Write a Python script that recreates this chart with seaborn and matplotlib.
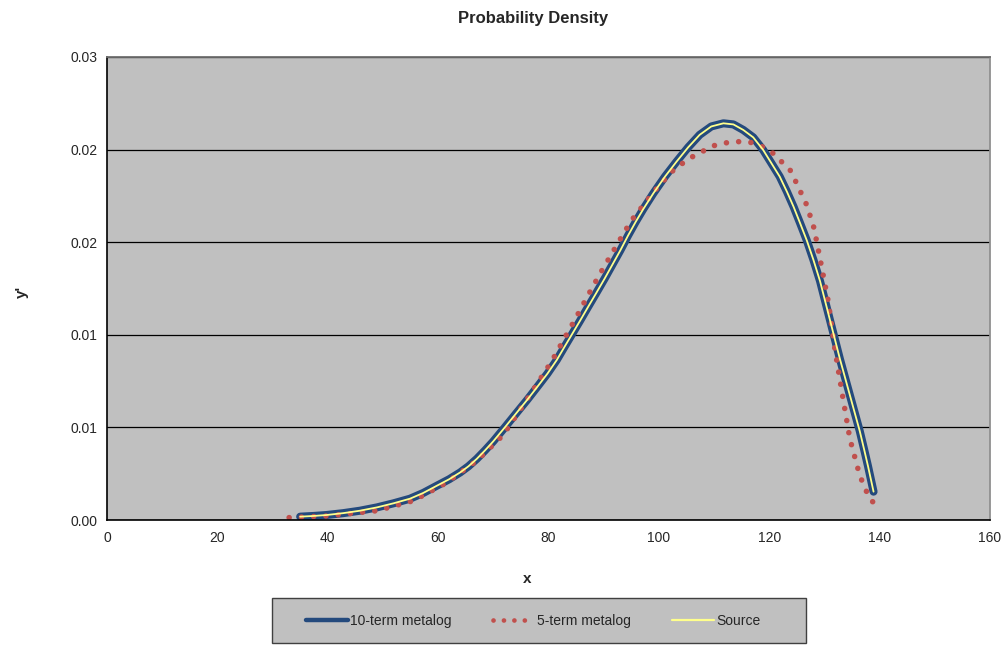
import numpy as np
import pandas as pd
import seaborn as sns
import matplotlib
matplotlib.use("Agg")
from matplotlib import pyplot as plt
from matplotlib.patches import Rectangle
from matplotlib.ticker import FuncFormatter

# values
x_10 = [35.0, 37.5, 39.8, 42.8, 45.8, 48.9, 51.9, 54.9, 57.3, 59.7, 62.0, 64.0,
        65.5, 67.0, 68.5, 70.0, 72.0, 74.2, 76.2, 78.1, 79.8, 81.5, 82.8, 84.2,
        85.7, 87.2, 88.7, 90.2, 91.6, 93.0, 94.4, 95.8, 97.2, 99.0, 101.1, 103.2,
        105.3, 107.4, 109.5, 111.7, 113.5, 115.3, 117.1, 118.9, 120.4, 121.9,
        123.2, 124.4, 125.6, 126.8, 128.0, 129.2, 130.4, 131.6, 132.8, 134.0,
        135.2, 136.4, 137.2, 137.9, 138.9]
y_10 = [0.00018, 0.00022, 0.00027, 0.00037, 0.0005, 0.00068, 0.0009, 0.00115,
        0.00146, 0.00184, 0.0022, 0.00257, 0.0029, 0.0033, 0.00376, 0.00425,
        0.00497, 0.00578, 0.00651, 0.00724, 0.0079, 0.00864, 0.0093, 0.0100,
        0.01075, 0.01152, 0.01228, 0.01305, 0.0138, 0.01455, 0.01535, 0.0161,
        0.0168, 0.01764, 0.01854, 0.01935, 0.02012, 0.0208, 0.02125, 0.02142,
        0.02136, 0.02106, 0.02066, 0.01998, 0.01926, 0.01854, 0.01773, 0.01692,
        0.01602, 0.0151, 0.01405, 0.0129, 0.0115, 0.0101, 0.0087, 0.0074,
        0.0061, 0.0048, 0.0038, 0.0029, 0.00153]

x_5 = [33.0, 40.0, 48.9, 55.5, 61.5, 67.0, 71.8, 76.9, 80.6, 82.8, 85.0, 87.1,
       89.3, 91.6, 93.9, 95.1, 99.3, 102.3, 104.0, 106.0, 109.8, 112.0, 114.3,
       116.5, 118.5, 120.7, 123.9, 126.8, 128.1, 129.0, 130.7, 131.9, 133.4,
       134.6, 136.4, 138.1, 139.6]
y_5 = [0.00013, 0.00022, 0.0005, 0.00104, 0.00201, 0.0032, 0.00459, 0.00687,
       0.00858, 0.00976, 0.01093, 0.0121, 0.01328, 0.01445, 0.01562, 0.0162,
       0.0178, 0.0188, 0.0192, 0.0196, 0.0202, 0.02036, 0.02043, 0.0204,
       0.0202, 0.0198, 0.01885, 0.0170, 0.01577, 0.01442, 0.01179, 0.0092,
       0.0065, 0.0044, 0.0024, 0.0012, 0.0007]

x_src = list(x_10)
y_src = list(y_10)

x_ticks = [0, 20, 40, 60, 80, 100, 120, 140, 160]
y_ticks = [0.0, 0.005, 0.01, 0.015, 0.02, 0.025]

sns.set_style("white")
plt.rcParams['font.family'] = ['Liberation Sans', 'DejaVu Sans']

W, H = 1005, 645
fig = plt.figure(figsize=(W / 100, H / 100), dpi=100)
fig.subplots_adjust(left=107 / W, right=990 / W, top=1 - 57 / H, bottom=1 - 520 / H)
ax = fig.add_subplot(111)
ax.set_facecolor("#C0C0C0")

blue = "#244A7D"
red = "#C0504D"
yellow = "#FFFF8C"

df10 = pd.DataFrame({"x": x_10, "y": y_10})
df5 = pd.DataFrame({"x": x_5, "y": y_5})
dfs = pd.DataFrame({"x": x_src, "y": y_src})

sns.lineplot(data=df10, x="x", y="y", ax=ax, color=blue, lw=5.8,
             solid_capstyle="round", solid_joinstyle="round",
             label="10-term metalog", zorder=3)
sns.lineplot(data=df5, x="x", y="y", ax=ax, color=red, lw=4.0,
             linestyle=(0, (0.01, 2.2)), dash_capstyle="round",
             label="5-term metalog", zorder=4)
sns.lineplot(data=dfs, x="x", y="y", ax=ax, color=yellow, lw=1.3,
             solid_joinstyle="round", label="Source", zorder=5)

ax.set_xlim(0, 160)
ax.set_ylim(0, 0.025)
ax.set_xticks(x_ticks)
ax.set_yticks(y_ticks)
ax.yaxis.set_major_formatter(FuncFormatter(lambda v, p: f"{v + 1e-9:.2f}"))
ax.tick_params(direction="out", length=4, width=1, color="black",
               labelsize=10, pad=3)
ax.tick_params(axis="x", pad=4)
ax.yaxis.grid(True, color="black", lw=0.9)
ax.xaxis.grid(False)
ax.set_axisbelow(True)
ax.set_xlabel("")
ax.set_ylabel("")

for s in ["left", "bottom"]:
    ax.spines[s].set_color("black")
    ax.spines[s].set_linewidth(1.2)
ax.spines["top"].set_color("#707070")
ax.spines["top"].set_linewidth(1.3)
ax.spines["right"].set_color("#909090")
ax.spines["right"].set_linewidth(1.3)
for sp in ax.spines.values():
    sp.set_zorder(6)

fig.text(533 / W, 1 - 18 / H, "Probability Density", ha="center", va="center",
         fontsize=12, fontweight="bold")
fig.text(527 / W, 1 - 579 / H, "x", ha="center", va="center",
         fontsize=11, fontweight="bold")
fig.text(22 / W, 1 - 292 / H, "y'", ha="center", va="center", rotation=90,
         fontsize=11, fontweight="bold")

# legend box
fig.patches.append(Rectangle((272 / W, 1 - 643 / H), (806 - 272) / W, (643 - 598) / H,
                             transform=fig.transFigure, facecolor="#C0C0C0",
                             edgecolor="#404040", lw=1, zorder=0))
handles, labels = ax.get_legend_handles_labels()
ax.get_legend().remove()
leg = fig.legend(handles, labels, loc="center", bbox_to_anchor=(533 / W, 1 - 621 / H),
                 ncol=3, frameon=False, fontsize=10, handlelength=3.0,
                 handletextpad=0.15, columnspacing=3.0)
lw_leg = [3.2, 3.4, 1.6]
for ln, w in zip(leg.get_lines(), lw_leg):
    ln.set_linewidth(w)

fig.savefig("out.png", dpi=100, facecolor="white")
